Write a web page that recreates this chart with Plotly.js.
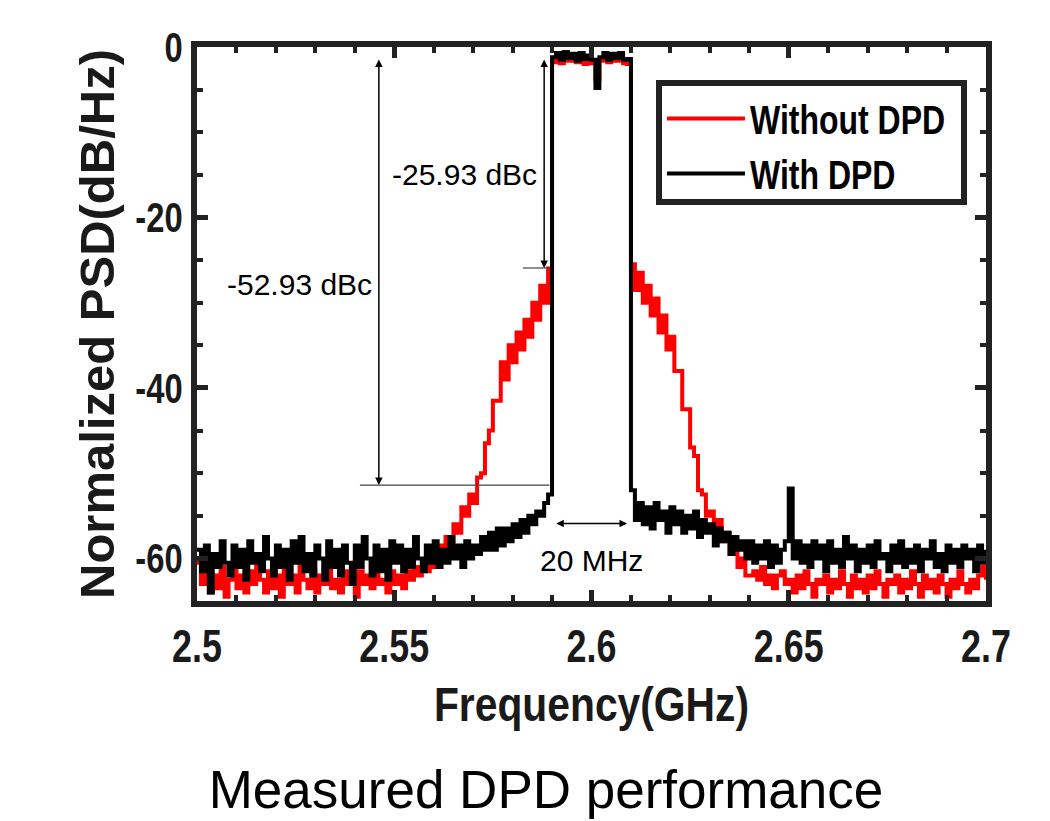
<!DOCTYPE html>
<html>
<head>
<meta charset="utf-8">
<script src="https://cdn.plot.ly/plotly-3.0.1.min.js"></script>
<style>
  html, body { margin: 0; padding: 0; background: #ffffff; }
  #chart { width: 1050px; height: 821px; }
</style>
</head>
<body>
<div id="chart"></div>
<script>
// ---------------- DATA ----------------
// Spectrum analyser sweep: start frequency and step (GHz), 201 points from 2.500 to 2.700
const sweepStartGHz = 2.5;
const sweepStepGHz = 0.001;

// Normalized PSD (dB/Hz), without DPD (red trace), one value per sweep point
const psdWithoutDPD = [
  -60.5, -63.0, -61.5, -64.0, -62.0, -63.5, -61.0, -64.5, -62.5, -61.0,
  -63.5, -62.0, -64.0, -61.5, -63.0, -60.5, -62.5, -64.0, -61.5, -63.5,
  -62.0, -64.5, -61.0, -63.0, -62.0, -64.0, -60.5, -62.5, -63.5, -61.5,
  -64.0, -62.0, -63.0, -61.0, -63.5, -62.5, -64.0, -61.5, -63.0, -62.0,
  -64.5, -61.5, -63.0, -62.0, -63.5, -61.0, -63.0, -62.5, -64.0, -61.5,
  -63.0, -62.0, -63.5, -61.5, -62.5, -61.0, -62.0, -60.5, -61.5, -59.5,
  -61.0, -58.5, -60.0, -57.5, -58.5, -56.0, -57.0, -54.0, -55.0, -52.5,
  -53.5, -50.5, -50.0, -46.5, -45.0, -41.5, -41.5, -37.0, -39.0, -35.0,
  -37.0, -33.5, -35.5, -32.0, -34.0, -30.0, -32.0, -28.0, -30.0, -26.0,
  -1.8, -1.2, -1.9, -1.3, -1.6, -1.1, -1.8, -1.4, -2.0, -1.5,
  -1.9, -3.8, -1.6, -1.3, -1.8, -1.2, -1.6, -1.3, -1.9, -2.0,
  -25.5, -28.5, -26.5, -30.0, -28.0, -31.5, -29.5, -33.5, -31.5, -35.5,
  -34.0, -38.0, -38.0, -42.5, -42.5, -47.0, -48.0, -52.0, -52.5, -55.0,
  -54.5, -56.5, -55.5, -58.0, -57.0, -59.5, -59.0, -61.0, -60.0, -62.0,
  -62.0, -61.5, -62.5, -61.0, -63.0, -62.0, -63.5, -62.0, -61.5, -63.0,
  -62.5, -64.0, -62.0, -63.5, -61.5, -63.0, -64.5, -62.5, -63.0, -62.0,
  -64.0, -62.5, -63.5, -61.5, -63.0, -64.5, -62.0, -63.5, -62.5, -64.0,
  -62.0, -63.5, -61.5, -63.0, -64.5, -62.5, -63.0, -62.0, -64.0, -62.5,
  -63.5, -61.5, -63.0, -64.5, -62.0, -63.5, -62.5, -64.0, -62.0, -63.0,
  -64.5, -62.5, -63.5, -61.5, -63.0, -64.0, -62.5, -63.5, -62.0, -61.0,
  -62.5
];

// Normalized PSD (dB/Hz), with DPD (black trace)
const psdWithDPD = [
  -59.0, -61.5, -58.5, -64.0, -59.5, -61.0, -58.0, -60.5, -62.0, -58.5,
  -61.0, -59.0, -62.5, -58.0, -60.5, -59.5, -61.5, -57.5, -60.0, -62.0,
  -58.5, -61.0, -59.0, -62.5, -58.0, -60.5, -57.5, -61.5, -59.5, -62.0,
  -58.5, -60.0, -62.5, -58.0, -61.0, -59.0, -62.0, -58.5, -60.5, -63.0,
  -58.5, -61.0, -57.5, -60.0, -62.0, -58.5, -61.5, -59.0, -62.5, -58.0,
  -60.5, -58.5, -61.5, -59.0, -61.0, -57.5, -60.0, -61.5, -58.5, -60.5,
  -58.0, -61.0, -59.0, -60.5, -57.5, -60.0, -58.5, -61.0, -58.0, -60.0,
  -58.5, -59.5, -57.5, -59.0, -57.0, -59.0, -56.5, -58.5, -56.5, -58.0,
  -56.0, -57.5, -55.5, -57.0, -55.0, -56.0, -54.5, -55.0, -53.5, -52.5,
  -1.2, -0.7, -1.5, -0.6, -1.3, -0.8, -1.6, -0.7, -1.4, -1.0,
  -1.5, -4.8, -1.2, -0.7, -1.5, -0.8, -1.3, -0.7, -1.5, -1.4,
  -52.0, -55.5, -53.5, -56.0, -54.0, -56.5, -53.5, -55.5, -54.5, -57.0,
  -54.0, -56.0, -54.5, -57.0, -55.0, -56.5, -54.5, -57.5, -55.5, -57.0,
  -56.0, -58.5, -56.5, -58.0, -57.0, -59.5, -57.5, -59.0, -58.0, -60.0,
  -58.0, -60.5, -58.5, -60.0, -58.0, -61.0, -58.5, -60.5, -59.0, -58.0,
  -51.8, -60.0, -58.0, -60.5, -58.5, -61.0, -58.0, -60.0, -58.5, -61.5,
  -58.0, -60.5, -59.0, -61.0, -57.5, -60.0, -58.5, -61.5, -59.0, -60.5,
  -58.5, -61.0, -58.0, -60.0, -59.5, -61.5, -58.5, -60.5, -58.0, -61.0,
  -59.0, -60.5, -58.5, -61.5, -59.0, -60.0, -58.0, -61.0, -59.5, -61.5,
  -58.5, -60.5, -59.0, -61.0, -58.5, -60.0, -59.0, -61.5, -58.5, -60.5,
  -59.0
];

const seriesNames = ['Without DPD', 'With DPD'];
const xTickVals = [2.5, 2.55, 2.6, 2.65, 2.7];
const xTickText = ['2.5', '2.55', '2.6', '2.65', '2.7'];
const yTickVals = [-60, -40, -20, 0];
const yTickText = ['-60', '-40', '-20', '0'];

// Measurement markers (values from the figure)
const inBandLevelDB = -1.3;
const aclrWithoutDPD = -25.93;      // dBc label
const aclrWithDPDLevel = -51.4;      // level where the second marker line sits
const aclrLabels = ['-25.93 dBc', '-52.93 dBc'];
const bandEdgesGHz = [2.5907, 2.6090];
const bandwidthLabel = '20 MHz';

// ---------------- CHART ----------------
const freqGHz = psdWithDPD.map((_, i) => +(sweepStartGHz + i * sweepStepGHz).toFixed(4));

const SANS = 'Liberation Sans, Arial, Helvetica, sans-serif';
const FRAME = '#222222';

const traces = [
  {
    x: freqGHz, y: psdWithoutDPD, name: seriesNames[0], type: 'scatter', mode: 'lines',
    line: { color: '#ff0000', width: 4, shape: 'hv' }
  },
  {
    x: freqGHz, y: psdWithDPD, name: seriesNames[1], type: 'scatter', mode: 'lines',
    line: { color: '#000000', width: 4, shape: 'hv' }
  }
];

const arrowStyle = {
  showarrow: true, text: '', arrowhead: 2, startarrowhead: 2, arrowside: 'end+start',
  arrowsize: 1, startarrowsize: 1, arrowwidth: 1.5, arrowcolor: '#000',
  xref: 'x', yref: 'y', axref: 'x', ayref: 'y'
};

const layout = {
  width: 1050, height: 821,
  paper_bgcolor: '#ffffff', plot_bgcolor: '#ffffff',
  margin: { l: 197, r: 64, t: 47, b: 220, pad: 0 },
  showlegend: true,
  title: {
    text: 'Measured DPD performance',
    font: { family: SANS, size: 53, color: '#000' },
    x: 0.52, xanchor: 'center', xref: 'container',
    y: 0.016, yanchor: 'bottom', yref: 'container',
    pad: { t: 0, b: 0, l: 0, r: 0 }
  },
  xaxis: {
    range: [2.5, 2.7], tickmode: 'array', tickvals: xTickVals, ticktext: xTickText,
    ticks: 'inside', ticklen: 11, tickwidth: 5, tickcolor: FRAME,
    minor: { dtick: 0.01, tick0: 2.5, ticks: 'inside', ticklen: 6, tickwidth: 4, tickcolor: FRAME },
    showline: true, linewidth: 6, linecolor: FRAME, mirror: 'allticks',
    showgrid: false, zeroline: false,
    tickfont: { family: SANS, size: 46, color: '#1a1a1a', weight: 'bold' },
    title: { text: 'Frequency(GHz)', font: { family: SANS, size: 48, color: '#1a1a1a', weight: 'bold' }, standoff: 18 },
    automargin: false
  },
  yaxis: {
    range: [-65, 0], tickmode: 'array', tickvals: yTickVals, ticktext: yTickText,
    ticks: 'inside', ticklen: 11, tickwidth: 5, tickcolor: FRAME,
    minor: { dtick: 5, tick0: 0, ticks: 'inside', ticklen: 6, tickwidth: 4, tickcolor: FRAME },
    showline: true, linewidth: 6, linecolor: FRAME, mirror: 'allticks',
    showgrid: false, zeroline: false,
    tickfont: { family: SANS, size: 42, color: '#1a1a1a', weight: 'bold' },
    title: { text: 'Normalized PSD(dB/Hz)', font: { family: SANS, size: 49, color: '#1a1a1a', weight: 'bold' }, standoff: 10 },
    automargin: false
  },
  legend: {
    x: 0.5817, y: 0.9404, xanchor: 'left', yanchor: 'top',
    bgcolor: '#ffffff', bordercolor: FRAME, borderwidth: 6,
    font: { family: SANS, size: 40, color: '#000', weight: 'bold' },
    itemwidth: 78, tracegroupgap: 0
  },
  shapes: [
    { type: 'line', xref: 'x', yref: 'y', x0: 2.5826, x1: 2.5895, y0: aclrWithoutDPD, y1: aclrWithoutDPD,
      line: { color: '#444', width: 1.2 } },
    { type: 'line', xref: 'x', yref: 'y', x0: 2.5413, x1: 2.5893, y0: aclrWithDPDLevel, y1: aclrWithDPDLevel,
      line: { color: '#444', width: 1.2 } }
  ],
  annotations: [
    Object.assign({}, arrowStyle, { x: 2.588, y: aclrWithoutDPD, ax: 2.588, ay: inBandLevelDB }),
    Object.assign({}, arrowStyle, { x: 2.5461, y: aclrWithDPDLevel, ax: 2.5461, ay: inBandLevelDB }),
    Object.assign({}, arrowStyle, { x: bandEdgesGHz[1], y: -55.9, ax: bandEdgesGHz[0], ay: -55.9 }),
    { x: 2.5677, y: -15.0, xref: 'x', yref: 'y', text: aclrLabels[0], showarrow: false,
      font: { family: SANS, size: 30, color: '#000' } },
    { x: 2.5261, y: -27.9, xref: 'x', yref: 'y', text: aclrLabels[1], showarrow: false,
      font: { family: SANS, size: 30, color: '#000' } },
    { x: 2.6, y: -60.3, xref: 'x', yref: 'y', text: bandwidthLabel, showarrow: false,
      font: { family: SANS, size: 30, color: '#000' } }
  ]
};

// The source figure uses a condensed bold face; no narrow font is installed,
// so the rendered text is compressed horizontally (it stays real text).
function condense(selector, factor) {
  let maxBefore = 0, maxAfter = 0;
  document.querySelectorAll(selector).forEach(t => {
    const w = t.getComputedTextLength();
    if (!w) return;
    maxBefore = Math.max(maxBefore, w);
    maxAfter = Math.max(maxAfter, w * factor);
    t.setAttribute('lengthAdjust', 'spacingAndGlyphs');
    t.setAttribute('textLength', (w * factor).toFixed(1));
  });
  return maxBefore - maxAfter;
}

Plotly.newPlot('chart', traces, layout, { displayModeBar: false, staticPlot: true }).then(() => {
  condense('#chart .xtick text', 0.78);
  condense('#chart .ytick text', 0.78);
  condense('#chart .g-xtitle text', 0.85);
  const shrink = condense('#chart .legend .legendtext', 0.8);
  const bg = document.querySelector('#chart .legend rect.bg');
  if (bg) {
    bg.setAttribute('width', (+bg.getAttribute('width') - shrink + 10).toFixed(1));
    bg.setAttribute('height', (+bg.getAttribute('height') - 7).toFixed(1));
  }
  const yt = document.querySelector('#chart .g-ytitle');
  if (yt) yt.setAttribute('transform', 'translate(16,0)');
});
</script>
</body>
</html>
